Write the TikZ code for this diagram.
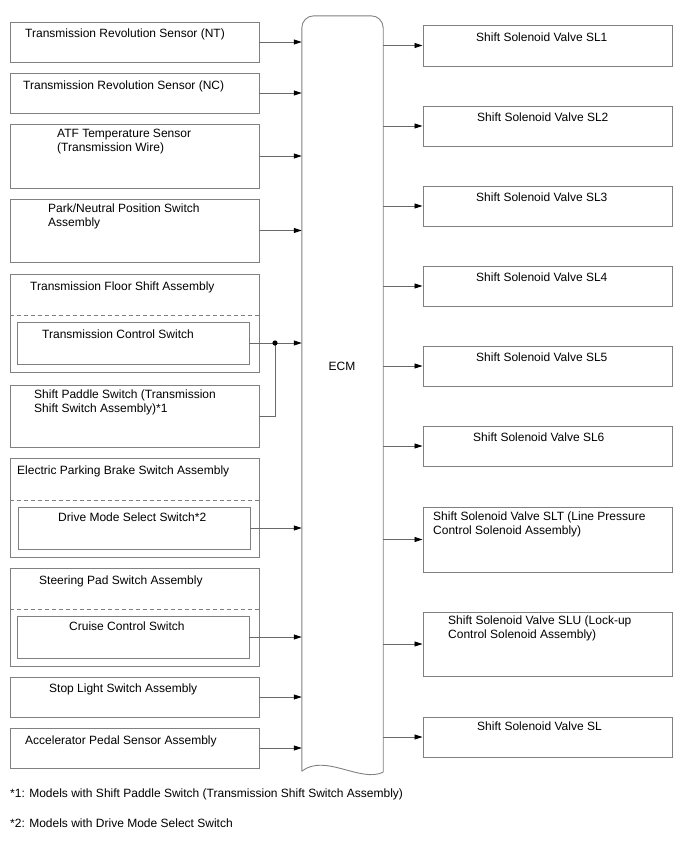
\documentclass[tikz,border=0pt]{standalone}
\usepackage{fontspec}
\setmainfont{Liberation Sans}
\usetikzlibrary{arrows.meta,fit}
\definecolor{boxgray}{HTML}{808080}
\definecolor{linegray}{HTML}{6A6A6A}
\begin{document}
\begin{tikzpicture}[x=1pt,y=-1pt,
  box/.style={draw=boxgray, line width=0.9pt, inner sep=0pt},
  ghost/.style={draw=none, inner sep=0pt},
  dashline/.style={draw=boxgray, line width=0.8pt, dash pattern=on 4pt off 3pt},
  conn/.style={draw=linegray, line width=0.8pt},
  arr/.style={conn, -{Triangle[length=8pt,width=5pt,color=black]}},
  txt/.style={anchor=north west, inner sep=0pt, align=left,
    font=\fontsize{12}{14}\selectfont, text=black, execute at begin node=\strut}]
\useasboundingbox (0,0) rectangle (688,852);

% ---------- left boxes ----------
\node[box, fit={(10,22) (259,62)}] (nt) {};
\node[box, fit={(10,73) (259,113)}] (nc) {};
\node[box, fit={(10,124) (259,188)}] (atf) {};
\node[box, fit={(10,199) (259,262)}] (pnp) {};
\node[box, fit={(10,274) (259,372)}] (tfs) {};
\node[box, fit={(17,322) (249,364)}] (tcs) {};
\node[box, fit={(10,385) (259,447)}] (psw) {};
\node[box, fit={(10,458) (259,557)}] (epb) {};
\node[box, fit={(18,507) (250,549)}] (dms) {};
\node[box, fit={(10,568) (259,666)}] (sps) {};
\node[box, fit={(17,616) (249,658)}] (ccs) {};
\node[box, fit={(10,677) (259,717)}] (slsw) {};
\node[box, fit={(10,728) (259,768)}] (aps) {};

\draw[dashline] (tfs.west |- 0,315) -- (tfs.east |- 0,315);
\draw[dashline] (epb.west |- 0,500) -- (epb.east |- 0,500);
\draw[dashline] (sps.west |- 0,609) -- (sps.east |- 0,609);

% ---------- right boxes ----------
\node[box, fit={(423,25) (672,66)}] (sl1) {};
\node[box, fit={(423,106) (672,146)}] (sl2) {};
\node[box, fit={(423,186) (672,226)}] (sl3) {};
\node[box, fit={(423,266) (672,306)}] (sl4) {};
\node[box, fit={(423,346) (672,386)}] (sl5) {};
\node[box, fit={(423,426) (672,466)}] (sl6) {};
\node[box, fit={(423,507) (672,572)}] (slt) {};
\node[box, fit={(423,612) (672,676)}] (slu) {};
\node[box, fit={(423,717) (672,757)}] (sl) {};

% ---------- ECM ----------
\node[ghost, fit={(302,16) (383,771)}] (ecm) {};
\draw[draw=boxgray, line width=0.9pt, rounded corners=12pt]
  (ecm.south west) -- (ecm.north west) -- (ecm.north east) -- ([yshift=-1pt]ecm.south east);
\draw[draw=boxgray, line width=0.9pt]
  (ecm.south west) .. controls (325,753) and (360,783) .. ([yshift=-1pt]ecm.south east);
\node[anchor=center, inner sep=0pt, font=\fontsize{12}{14}\selectfont] (ecmlabel) at (342,366) {ECM};

% ---------- texts ----------
\node[txt] (tnt) at (25,27) {Transmission Revolution Sensor (NT)};
\node[txt] (tnc) at (23,79) {Transmission Revolution Sensor (NC)};
\node[txt] (tatf) at (57,128.5) {ATF Temperature Sensor\\(Transmission Wire)};
\node[txt] (tpnp) at (48,204) {Park/Neutral Position Switch\\Assembly};
\node[txt] (ttfs) at (30,280) {Transmission Floor Shift Assembly};
\node[txt] (ttcs) at (42,328) {Transmission Control Switch};
\node[txt] (tpsw) at (34,390) {Shift Paddle Switch (Transmission\\Shift Switch Assembly)*1};
\node[txt] (tepb) at (17,464) {Electric Parking Brake Switch Assembly};
\node[txt] (tdms) at (58,511) {Drive Mode Select Switch*2};
\node[txt] (tsps) at (39,574) {Steering Pad Switch Assembly};
\node[txt] (tccs) at (69,620) {Cruise Control Switch};
\node[txt] (tslsw) at (49,682) {Stop Light Switch Assembly};
\node[txt] (taps) at (25,734) {Accelerator Pedal Sensor Assembly};

\node[txt] (tsl1) at (476,31) {Shift Solenoid Valve SL1};
\node[txt] (tsl2) at (477,111) {Shift Solenoid Valve SL2};
\node[txt] (tsl3) at (476,191) {Shift Solenoid Valve SL3};
\node[txt] (tsl4) at (476,271) {Shift Solenoid Valve SL4};
\node[txt] (tsl5) at (476,351) {Shift Solenoid Valve SL5};
\node[txt] (tsl6) at (473,431) {Shift Solenoid Valve SL6};
\node[txt] (tslt) at (433,512) {Shift Solenoid Valve SLT (Line Pressure\\Control Solenoid Assembly)};
\node[txt] (tslu) at (448,616) {Shift Solenoid Valve SLU (Lock-up\\Control Solenoid Assembly)};
\node[txt] (tsl) at (477,720) {Shift Solenoid Valve SL};

\node[txt] (fn1) at (10,787) {*1: Models with Shift Paddle Switch (Transmission Shift Switch Assembly)};
\node[txt] (fn2) at (10,817) {*2: Models with Drive Mode Select Switch};

% ---------- input connectors ----------
\foreach \n in {nt,nc,atf,pnp,dms,ccs,slsw,aps}
  \draw[arr] (\n.east) -- (ecm.west |- \n.east);
\coordinate (j) at (275,343);
\draw[conn] (tcs.east) -- (j);
\draw[conn] (psw.east) -| (j);
\draw[arr] (j) -- (ecm.west |- j);
\fill[black] (j) circle (2.6pt);

% ---------- output connectors ----------
\foreach \n in {sl1,sl2,sl3,sl4,sl5,sl6,slt,slu,sl}
  \draw[arr] (ecm.east |- \n.west) -- (\n.west);
\end{tikzpicture}
\end{document}
